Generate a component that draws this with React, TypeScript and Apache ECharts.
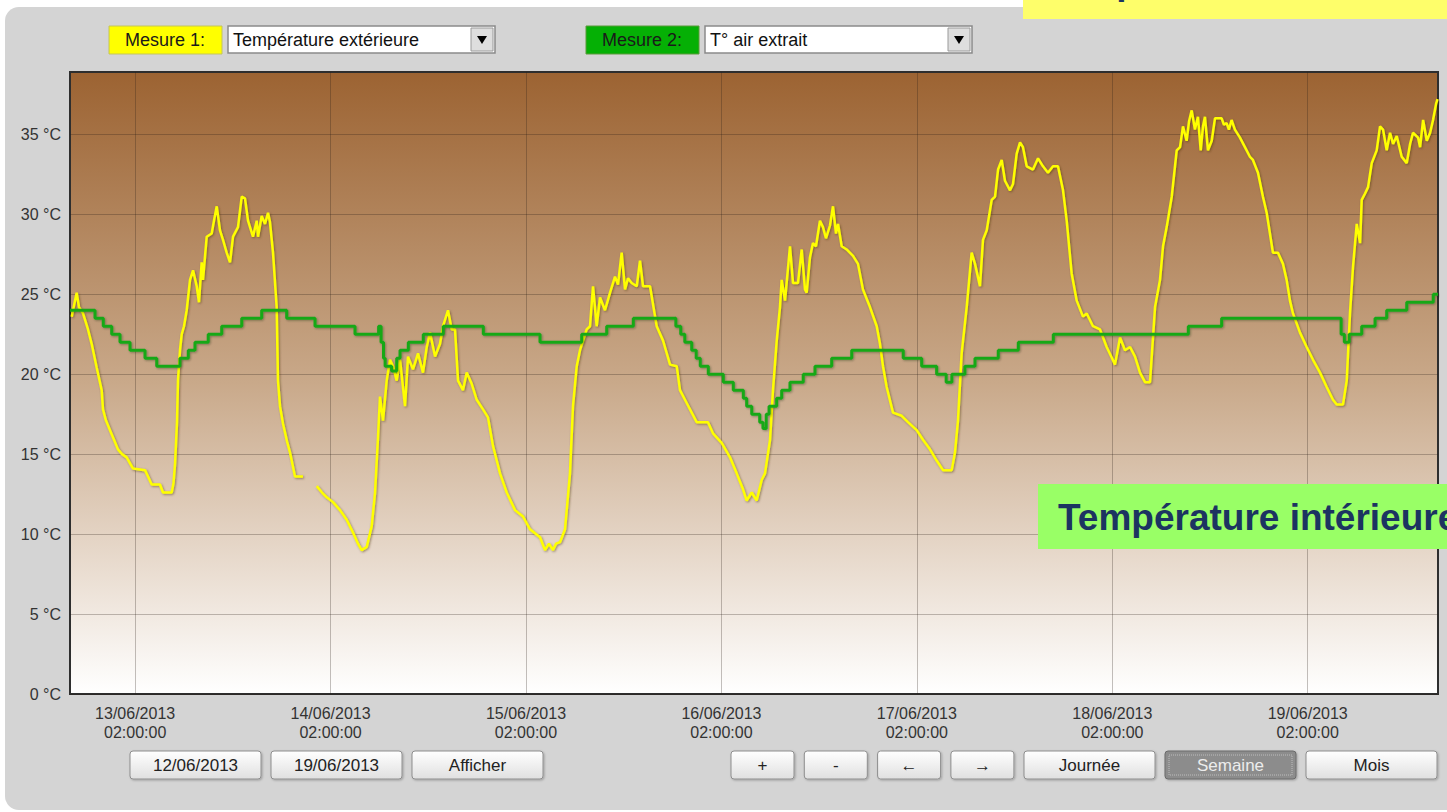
import React, { useEffect, useRef } from 'react';
import * as echarts from 'echarts';

// x = hours since 12/06/2013 18:00, y = °C
const dayTickHours = [8, 32, 56, 80, 104, 128, 152];
const dayLabels = ['13/06/2013', '14/06/2013', '15/06/2013', '16/06/2013', '17/06/2013', '18/06/2013', '19/06/2013'];
const dayTime = '02:00:00';
const yTicks = [0, 5, 10, 15, 20, 25, 30, 35];

const measure1Label = 'Mesure 1:';
const measure1Value = 'Température extérieure';
const measure2Label = 'Mesure 2:';
const measure2Value = 'T° air extrait';
const leftButtons = ['12/06/2013', '19/06/2013', 'Afficher'];
const smallButtons = ['+', '-', '←', '→'];
const periodButtons = ['Journée', 'Semaine', 'Mois'];
const activePeriod = 'Semaine';
const outsideCaption = 'Température extérieure';
const insideCaption = 'Température intérieure';

// Mesure 1 : Température extérieure
const outdoorTemp: [number, number | null][] = [
  [0.21, 23.6], [0.37, 24.0], [0.82, 25.1], [1.1, 24.2], [1.6, 23.8], [2.21, 22.8], [2.66, 21.9],
  [3.28, 20.4], [3.89, 19.0], [4.05, 17.8], [4.42, 17.1], [4.91, 16.5], [5.4, 15.9], [5.89, 15.3],
  [6.39, 15.0], [6.96, 14.8], [7.74, 14.1], [9.21, 14.0], [9.58, 13.6], [10.03, 13.1], [11.05, 13.1],
  [11.42, 12.6], [12.49, 12.6], [12.71, 13.2], [12.9, 14.4], [13.14, 17.0], [13.26, 19.6], [13.51, 21.5],
  [13.72, 22.5], [14.0, 23.0], [14.33, 24.0], [14.74, 25.9], [15.11, 26.5], [15.56, 25.5], [15.84, 24.5],
  [16.17, 27.0], [16.33, 25.9], [16.79, 28.6], [17.4, 28.8], [17.68, 29.6], [18.02, 30.5], [18.42, 29.0],
  [18.79, 28.4], [19.24, 27.6], [19.65, 27.0], [20.02, 28.6], [20.63, 29.2], [21.09, 31.1], [21.49, 31.0],
  [21.86, 29.6], [22.47, 28.6], [22.93, 29.6], [23.09, 28.6], [23.54, 29.9], [23.95, 29.4], [24.32, 30.1],
  [24.56, 29.5], [24.93, 27.6], [25.38, 24.2], [25.54, 19.6], [25.79, 18.0], [26.16, 16.9], [26.65, 15.8],
  [27.02, 15.1], [27.63, 13.6], [28.61, 13.6], [29.4, null],
  [30.3, 13.0], [30.95, 12.6], [31.53, 12.3], [32.3, 12.0], [33.16, 11.5], [33.98, 10.9], [34.75, 10.1],
  [35.37, 9.4], [35.82, 9.0], [36.44, 9.2], [37.05, 10.5], [37.46, 12.6], [37.83, 16.1], [38.07, 18.6],
  [38.44, 17.1], [38.89, 19.6], [39.3, 20.9], [39.67, 20.5], [40.12, 19.6], [40.53, 20.9], [41.14, 18.0],
  [41.51, 21.1], [42.12, 20.3], [42.74, 21.3], [43.35, 20.1], [43.81, 21.7], [44.21, 22.6], [44.83, 21.1],
  [45.44, 21.9], [45.81, 23.0], [46.42, 24.0], [46.88, 22.8], [47.28, 22.8], [47.65, 19.6], [48.26, 19.0],
  [48.72, 20.1], [49.33, 19.4], [49.95, 18.4], [50.72, 17.8], [51.33, 17.3], [51.95, 15.5], [52.81, 13.8],
  [53.63, 12.6], [54.65, 11.5], [55.63, 11.1], [56.49, 10.3], [57.72, 9.8], [58.33, 9.0], [58.82, 9.4],
  [59.32, 9.0], [59.68, 9.4], [60.18, 9.5], [60.79, 10.3], [61.4, 13.8], [61.77, 18.0], [62.23, 20.5],
  [62.63, 21.5], [63.45, 22.8], [63.86, 23.0], [64.23, 25.5], [64.68, 23.0], [65.09, 24.8], [65.7, 24.0],
  [66.32, 25.1], [66.93, 26.1], [67.3, 25.6], [67.75, 27.6], [68.16, 25.3], [68.53, 26.0], [68.98, 25.7],
  [69.6, 25.5], [70.0, 27.1], [70.37, 25.5], [71.23, 25.5], [72.05, 23.0], [72.83, 22.1], [73.69, 20.6],
  [74.51, 20.5], [74.91, 19.0], [75.73, 18.2], [76.96, 17.0], [78.35, 17.0], [78.96, 16.3], [80.03, 15.7],
  [81.05, 14.8], [81.87, 13.8], [82.65, 12.8], [83.1, 12.1], [83.72, 12.6], [84.33, 12.1], [84.95, 13.4],
  [85.35, 13.8], [85.97, 15.9], [86.33, 19.0], [86.79, 22.1], [87.19, 24.2], [87.4, 25.9], [87.81, 24.6],
  [88.42, 28.0], [88.79, 25.7], [89.4, 25.7], [89.86, 27.8], [90.26, 25.3], [90.47, 25.1], [90.87, 27.3],
  [91.24, 28.2], [91.61, 28.0], [92.1, 29.6], [92.47, 29.2], [92.84, 28.5], [93.33, 29.3], [93.7, 30.5],
  [94.07, 28.8], [94.32, 29.4], [94.77, 28.0], [95.38, 27.8], [96.16, 27.4], [96.77, 26.9], [97.38, 25.3],
  [98.24, 24.2], [99.07, 23.0], [99.47, 21.9], [99.84, 20.5], [100.29, 19.2], [101.07, 17.6], [102.13, 17.4],
  [102.91, 17.0], [103.98, 16.5], [104.75, 15.9], [105.61, 15.3], [106.43, 14.6], [107.21, 14.0], [108.28, 14.0],
  [108.68, 15.1], [109.05, 17.1], [109.5, 21.3], [110.12, 24.2], [110.73, 27.6], [111.14, 26.9], [111.75, 25.5],
  [112.12, 28.4], [112.58, 29.0], [113.19, 30.9], [113.6, 31.1], [113.97, 32.8], [114.42, 33.4], [114.82, 32.1],
  [115.44, 31.5], [115.81, 31.9], [116.26, 33.8], [116.67, 34.5], [117.03, 34.2], [117.49, 33.0], [118.26, 32.8],
  [118.88, 33.5], [119.49, 33.0], [120.1, 32.6], [120.72, 33.0], [121.33, 33.0], [121.95, 31.5], [122.4, 29.6],
  [123.01, 26.3], [123.63, 24.6], [124.4, 23.6], [124.86, 23.8], [125.63, 23.0], [126.49, 22.8], [127.31, 21.7],
  [127.97, 21.0], [128.33, 20.6], [128.95, 22.3], [129.56, 21.5], [130.18, 21.7], [130.79, 21.1], [131.4, 20.1],
  [132.02, 19.5], [132.63, 19.5], [133.25, 24.2], [133.86, 25.9], [134.23, 28.0], [134.68, 29.2], [135.3, 31.1],
  [135.91, 34.0], [136.32, 34.2], [136.68, 35.5], [137.13, 34.6], [137.42, 35.8], [137.75, 36.5], [138.15, 35.3],
  [138.52, 36.1], [138.86, 34.0], [139.14, 35.5], [139.38, 36.1], [139.75, 34.0], [140.21, 34.6], [140.61, 36.0],
  [141.43, 36.0], [141.71, 35.6], [142.04, 35.7], [142.32, 35.3], [142.65, 35.9], [143.06, 35.3], [143.68, 34.8],
  [144.29, 34.2], [144.9, 33.6], [145.27, 33.4], [145.89, 32.6], [146.5, 31.1], [146.96, 30.1], [147.36, 28.8],
  [147.73, 27.6], [148.35, 27.6], [148.96, 26.9], [149.41, 25.9], [149.82, 24.6], [150.19, 23.8], [151.05, 22.6],
  [151.87, 21.7], [152.65, 20.9], [153.51, 20.1], [154.33, 19.2], [155.1, 18.4], [155.56, 18.1], [156.33, 18.1],
  [156.79, 19.6], [157.19, 23.8], [157.56, 26.7], [158.02, 29.4], [158.43, 28.2], [158.63, 30.9], [159.04, 31.3],
  [159.41, 31.7], [159.86, 33.2], [160.47, 34.0], [160.88, 35.5], [161.25, 35.3], [161.7, 34.0], [162.11, 35.1],
  [162.48, 34.4], [162.93, 34.9], [163.54, 33.6], [164.16, 33.2], [164.57, 34.4], [164.93, 35.1], [165.55, 34.8],
  [165.8, 34.2], [166.17, 35.9], [166.62, 34.6], [167.03, 35.1], [167.39, 35.9], [167.76, 36.9], [167.94, 37.2],
];

// Mesure 2 : T° air extrait (value held from each point to the next)
const extractAirTemp: [number, number][] = [
  [0, 24.0], [3.07, 23.5], [4.09, 23.0], [5.12, 22.5], [6.14, 22.0], [7.37, 21.5], [9.21, 21.0],
  [10.65, 20.5], [13.5, 21.0], [14.53, 21.5], [15.35, 22.0], [16.98, 22.5], [18.63, 23.0], [21.09, 23.5],
  [23.54, 24.0], [26.61, 23.5], [30.09, 23.0], [35.0, 22.5], [37.9, 23.0], [38.2, 22.0], [38.5, 21.0],
  [38.7, 20.5], [39.5, 20.2], [40.12, 21.0], [40.53, 21.5], [41.55, 22.0], [43.39, 22.5], [45.84, 23.0],
  [50.76, 22.5], [57.72, 22.0], [62.84, 22.5], [65.91, 23.0], [69.18, 23.5], [74.4, 23.0], [75.0, 22.5],
  [75.5, 22.0], [76.35, 21.5], [76.9, 21.0], [77.4, 20.5], [78.39, 20.0], [80.23, 19.5], [81.46, 19.0],
  [82.69, 18.5], [83.1, 18.0], [83.72, 17.5], [84.7, 17.0], [85.1, 16.6], [85.5, 17.5], [85.85, 18.0],
  [86.78, 18.5], [87.4, 19.0], [88.42, 19.5], [90.05, 20.0], [91.49, 20.5], [93.54, 21.0], [96.0, 21.5],
  [102.33, 21.0], [104.59, 20.5], [106.43, 20.0], [107.6, 19.5], [108.3, 20.0], [109.9, 20.5], [111.14, 21.0],
  [114.0, 21.5], [116.46, 22.0], [120.76, 22.5], [137.34, 23.0], [141.43, 23.5], [156.1, 22.5], [156.5, 22.0],
  [157.1, 22.5], [158.63, 23.0], [160.27, 23.5], [161.7, 24.0], [164.16, 24.5], [167.42, 25.0], [168, 25.0],
];

const FONT = "'Liberation Sans', Arial, sans-serif";

function buildGraphics(): any[] {
  const g: any[] = [];
  // panel
  g.push({ type: 'rect', z: -10, shape: { x: 5, y: 7, width: 1480, height: 803, r: 14 }, style: { fill: '#d4d4d4' } });
  // top-right yellow caption (mostly cut off by the page top)
  g.push({ type: 'rect', z: 100, shape: { x: 1023, y: -5, width: 440, height: 24 }, style: { fill: '#fefe6a' } });
  g.push({
    type: 'text', z: 101, x: 1043, y: -19,
    style: { text: outsideCaption, fill: '#1c3461', fontFamily: FONT, fontWeight: 'bold', fontSize: 37, align: 'left', verticalAlign: 'middle' },
  });

  const measure = (x: number, label: string, fill: string, stroke: string, selX: number, value: string) => {
    g.push({ type: 'rect', z: 50, shape: { x, y: 26, width: 113, height: 28 }, style: { fill, stroke, lineWidth: 1 } });
    g.push({
      type: 'text', z: 51, x: x + 56, y: 40,
      style: { text: label, fill: '#1a1a1a', fontFamily: FONT, fontSize: 18, align: 'center', verticalAlign: 'middle' },
    });
    g.push({ type: 'rect', z: 50, shape: { x: selX, y: 26, width: 267, height: 27 }, style: { fill: '#ffffff', stroke: '#8a8a8a', lineWidth: 1.5 } });
    g.push({
      type: 'text', z: 51, x: selX + 5, y: 40,
      style: { text: value, fill: '#111', fontFamily: FONT, fontSize: 18, align: 'left', verticalAlign: 'middle' },
    });
    const bx = selX + 243;
    g.push({ type: 'rect', z: 51, shape: { x: bx, y: 28, width: 22, height: 23 }, style: { fill: '#dedede', stroke: '#9a9a9a', lineWidth: 1 } });
    g.push({ type: 'polygon', z: 52, shape: { points: [[bx + 6, 36], [bx + 16, 36], [bx + 11, 44]] }, style: { fill: '#000' } });
  };
  measure(109, measure1Label, '#ffff00', '#c4c45a', 228, measure1Value);
  measure(586, measure2Label, '#05b005', '#5a9a3a', 705, measure2Value);

  const button = (label: string, x: number, w: number) => {
    const pressed = label === activePeriod;
    g.push({
      type: 'rect', z: 50, shape: { x, y: 751, width: w, height: 28, r: 3 },
      style: {
        fill: pressed ? '#8c8c8c' : new echarts.graphic.LinearGradient(0, 0, 0, 1, [
          { offset: 0, color: '#ffffff' }, { offset: 1, color: '#e0e0e0' },
        ]),
        stroke: pressed ? '#6a6a6a' : '#8e8e8e', lineWidth: 1,
        shadowColor: 'rgba(0,0,0,0.25)', shadowBlur: 2, shadowOffsetX: 1, shadowOffsetY: 1,
      },
    });
    if (pressed) {
      g.push({ type: 'rect', z: 51, shape: { x: x + 4, y: 755, width: w - 8, height: 20 }, style: { fill: 'none', stroke: '#bdbdbd', lineWidth: 1, lineDash: [1, 1] } });
    }
    g.push({
      type: 'text', z: 52, x: x + w / 2, y: 765,
      style: { text: label, fill: pressed ? '#ececec' : '#222', fontFamily: FONT, fontSize: 17, align: 'center', verticalAlign: 'middle' },
    });
  };
  leftButtons.forEach((b, i) => button(b, 130 + i * 141, 131));
  smallButtons.forEach((b, i) => button(b, 731 + i * 73.3, 63));
  periodButtons.forEach((b, i) => button(b, 1024 + i * 141, 131));

  // green caption
  g.push({ type: 'rect', z: 100, shape: { x: 1038, y: 484, width: 420, height: 65 }, style: { fill: '#99ff66' } });
  g.push({
    type: 'text', z: 101, x: 1058, y: 517,
    style: { text: insideCaption, fill: '#1c3461', fontFamily: FONT, fontWeight: 'bold', fontSize: 37, align: 'left', verticalAlign: 'middle' },
  });
  return g;
}

export default function App() {
  const ref = useRef<HTMLDivElement>(null);
  useEffect(() => {
    const chart = echarts.init(ref.current!, null, { renderer: 'svg' });
    const gridColor = 'rgba(40,30,20,0.28)';
    const option: any = {
      animation: false,
      backgroundColor: 'transparent',
      grid: {
        left: 70, right: 9, top: 72, bottom: 118,
        show: true,
        containLabel: false,
        outerBoundsMode: 'none',
        borderColor: '#2e2e2e',
        borderWidth: 2,
        backgroundColor: new echarts.graphic.LinearGradient(0, 0, 0, 1, [
          { offset: 0, color: '#9c6332' },
          { offset: 0.5, color: '#c9a98a' },
          { offset: 1, color: '#ffffff' },
        ]),
      },
      xAxis: {
        type: 'value', min: 0, max: 168,
        axisLine: { show: false },
        axisTick: { show: false, customValues: dayTickHours },
        splitLine: { show: true, lineStyle: { color: gridColor, width: 1 } },
        axisLabel: {
          customValues: dayTickHours,
          formatter: (v: number) => {
            const i = Math.round((v - dayTickHours[0]) / 24);
            return dayLabels[i] !== undefined ? dayLabels[i] + '\n' + dayTime : '';
          },
          color: '#333', fontFamily: FONT, fontSize: 16, lineHeight: 19, margin: 10,
        },
      },
      yAxis: {
        type: 'value', min: 0, max: 38.9,
        axisLine: { show: false },
        axisTick: { show: false, customValues: yTicks },
        splitLine: { show: true, lineStyle: { color: gridColor, width: 1 } },
        axisLabel: {
          customValues: yTicks,
          formatter: (v: number) => `${v} °C`,
          color: '#333', fontFamily: FONT, fontSize: 16, margin: 9,
        },
      },
      series: [
        {
          name: measure1Value, type: 'line', data: outdoorTemp, symbol: 'none', connectNulls: false, z: 3,
          itemStyle: { color: '#ffff00' },
          lineStyle: { color: '#ffff00', width: 2.5, shadowColor: 'rgba(70,50,0,0.5)', shadowBlur: 2, shadowOffsetX: 1, shadowOffsetY: 1 },
        },
        {
          name: measure2Value, type: 'line', data: extractAirTemp, step: 'end', symbol: 'none', z: 4,
          itemStyle: { color: '#18a818' },
          lineStyle: { color: '#18a818', width: 3, shadowColor: 'rgba(0,40,0,0.35)', shadowBlur: 2, shadowOffsetX: 1, shadowOffsetY: 1 },
        },
      ],
      graphic: { elements: buildGraphics() },
    };
    chart.setOption(option);
    return () => chart.dispose();
  }, []);
  return (
    <div
      ref={ref}
      style={{ position: 'absolute', left: 0, top: 0, width: 1447, height: 812, background: '#ffffff', overflow: 'hidden' }}
    />
  );
}
